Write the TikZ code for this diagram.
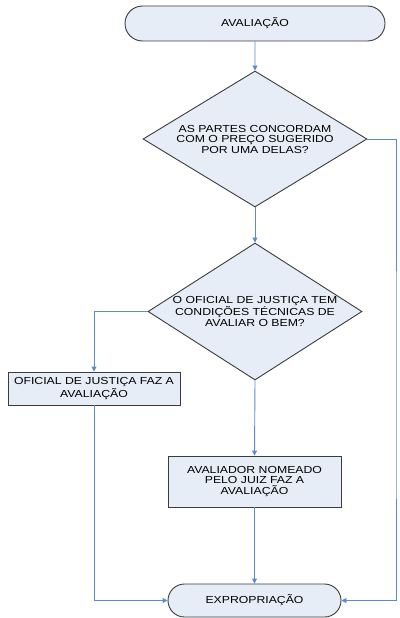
\documentclass[tikz,border=0pt]{standalone}
\usepackage{fontspec}
\setmainfont{Liberation Sans}[FakeStretch=1.2]
\usetikzlibrary{shapes.geometric,shapes.misc,arrows.meta}
\definecolor{boxfill}{HTML}{E7EDF6}
\definecolor{boxline}{HTML}{3C3C3C}
\definecolor{flowblue}{HTML}{5B8BD0}
\begin{document}
\begin{tikzpicture}[x=1pt,y=-1pt]
\tikzset{base/.style={draw=boxline, fill=boxfill, line width=.9pt, inner sep=0pt, align=center,
    font=\fontsize{10.2}{10.5}\selectfont},
  terminal/.style={base, rounded rectangle},
  decision/.style={base, diamond},
  process/.style={base, rectangle},
  flow/.style={draw=flowblue, line width=.9pt, -{Triangle[length=5pt,width=5pt]}}}
    \useasboundingbox (0,0) rectangle (399,618);
    \node[terminal, text width=120pt, minimum width=260pt, minimum height=35pt] at (255,23.5) (start) {AVALIAÇÃO};
    \node[decision, text width=160pt, aspect=1.65, minimum width=224pt, minimum height=136pt] at (255,139) (q_1)
      {AS PARTES CONCORDAM\\COM O PREÇO SUGERIDO\\POR UMA DELAS?};
    \node[decision, text width=166pt, aspect=1.56, minimum width=214pt, minimum height=137pt] at (255,311.5) (q_2)
      {O OFICIAL DE JUSTIÇA TEM\\CONDIÇÕES TÉCNICAS DE\\AVALIAR O BEM?};
    \node[process, text width=166pt, minimum width=172pt, minimum height=33pt] at (94,388.5) (b_1)
      {OFICIAL DE JUSTIÇA FAZ A\\AVALIAÇÃO};
    \node[process, text width=166pt, minimum width=173pt, minimum height=51pt] at (254.5,481.5) (b_2)
      {AVALIADOR NOMEADO\\PELO JUIZ FAZ A\\AVALIAÇÃO};
    \node[terminal, text width=120pt, minimum width=173pt, minimum height=33pt] at (254.5,600.5) (stop) {EXPROPRIAÇÃO};
    \coordinate (r) at (396,400);

    \draw[flow] (start) -- (q_1);
    \draw[flow] (q_1) -- (q_2);
    \draw[flow] (q_2.west) -| (b_1.north);
    \draw[flow] (q_2.south) -- (b_2.north);
    \draw[flow] (b_2) -- (stop);
    \draw[flow] (b_1.south) |- (stop.west);
    \draw[flow] (q_1.east) -| (r) |- (stop.east);
  \end{tikzpicture}
\end{document}
